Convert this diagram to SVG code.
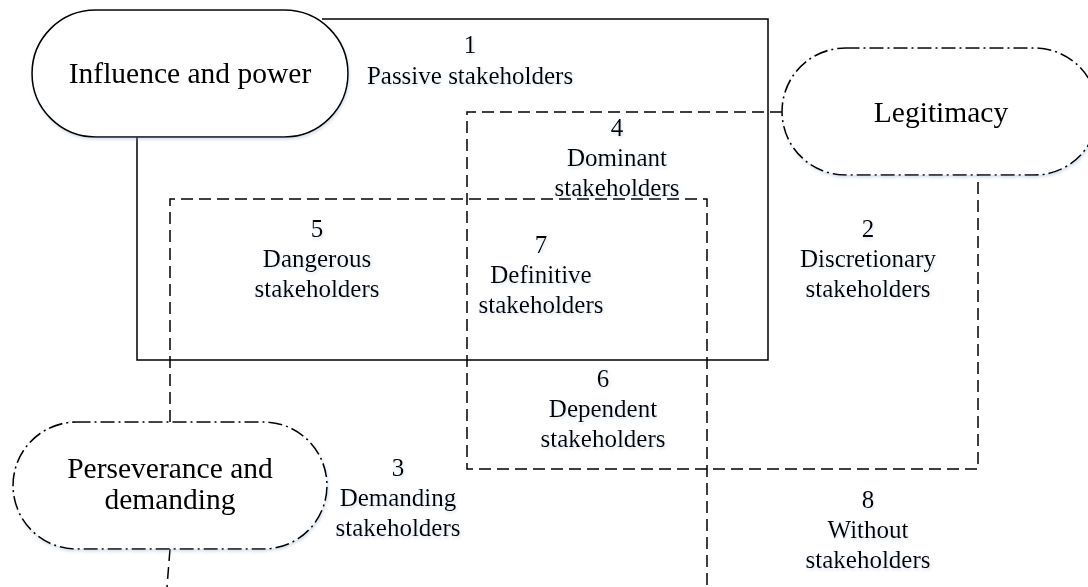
<svg xmlns="http://www.w3.org/2000/svg" width="1088" height="587" viewBox="0 0 1088 587">
  <defs>
    <filter id="sh" x="-10%" y="-10%" width="120%" height="130%">
      <feDropShadow dx="1" dy="2" stdDeviation="1.5" flood-color="#8fa8c8" flood-opacity="0.35"/>
    </filter>
  </defs>
  <style>
    .node { fill: #ffffff; stroke: #000000; stroke-width: 1.6; }
    .solidnode { }
    .dashdot { stroke-dasharray: 14 4 2 4; }
    .solid { fill: none; stroke: #000000; stroke-width: 1.5; }
    .dashed { fill: none; stroke: #000000; stroke-width: 1.5; stroke-dasharray: 12 6; }
    .ntext { font-family: "Liberation Serif", "Times New Roman", serif; font-size: 29.5px; fill: #000000; text-anchor: middle; }
    .ltext { font-family: "Liberation Serif", "Times New Roman", serif; font-size: 25px; fill: #000000; text-anchor: middle; }
  </style>
  <rect width="1088" height="587" fill="#ffffff"/>

  <g id="connectors">
    <path class="solid" d="M322,19 H768 V360 H137 V137"/>
    <path class="dashed" d="M782,112 H467 V469 H978 V175"/>
    <path class="dashed" d="M170,422 V199 H707 V587"/>
    <path class="dashed" d="M170,549 L167,587"/>
  </g>

  <g id="node-influence" filter="url(#sh)">
    <rect class="node" x="32" y="10" width="316" height="127" rx="63.5" ry="63.5"/>
    <text class="ntext" x="190" y="83">Influence and power</text>
  </g>

  <g id="node-legitimacy" filter="url(#sh)">
    <rect class="node dashdot" x="782" y="48" width="316" height="127" rx="63.5" ry="63.5"/>
    <text class="ntext" x="941" y="122">Legitimacy</text>
  </g>

  <g id="node-perseverance" filter="url(#sh)">
    <rect class="node dashdot" x="13" y="422" width="314" height="127" rx="63.5" ry="63.5"/>
    <text class="ntext" x="170" y="478">Perseverance and</text>
    <text class="ntext" x="170" y="509">demanding</text>
  </g>

  <g id="region-1" filter="url(#sh)">
    <text class="ltext" x="470" y="53">1</text>
    <text class="ltext" x="470" y="84">Passive stakeholders</text>
  </g>

  <g id="region-4" filter="url(#sh)">
    <text class="ltext" x="617" y="136">4</text>
    <text class="ltext" x="617" y="166">Dominant</text>
    <text class="ltext" x="617" y="196">stakeholders</text>
  </g>

  <g id="region-5" filter="url(#sh)">
    <text class="ltext" x="317" y="237">5</text>
    <text class="ltext" x="317" y="267">Dangerous</text>
    <text class="ltext" x="317" y="297">stakeholders</text>
  </g>

  <g id="region-7" filter="url(#sh)">
    <text class="ltext" x="541" y="253">7</text>
    <text class="ltext" x="541" y="283">Definitive</text>
    <text class="ltext" x="541" y="313">stakeholders</text>
  </g>

  <g id="region-2" filter="url(#sh)">
    <text class="ltext" x="868" y="237">2</text>
    <text class="ltext" x="868" y="267">Discretionary</text>
    <text class="ltext" x="868" y="297">stakeholders</text>
  </g>

  <g id="region-6" filter="url(#sh)">
    <text class="ltext" x="603" y="387">6</text>
    <text class="ltext" x="603" y="417">Dependent</text>
    <text class="ltext" x="603" y="447">stakeholders</text>
  </g>

  <g id="region-3" filter="url(#sh)">
    <text class="ltext" x="398" y="476">3</text>
    <text class="ltext" x="398" y="506">Demanding</text>
    <text class="ltext" x="398" y="536">stakeholders</text>
  </g>

  <g id="region-8" filter="url(#sh)">
    <text class="ltext" x="868" y="508">8</text>
    <text class="ltext" x="868" y="538">Without</text>
    <text class="ltext" x="868" y="568">stakeholders</text>
  </g>
</svg>
